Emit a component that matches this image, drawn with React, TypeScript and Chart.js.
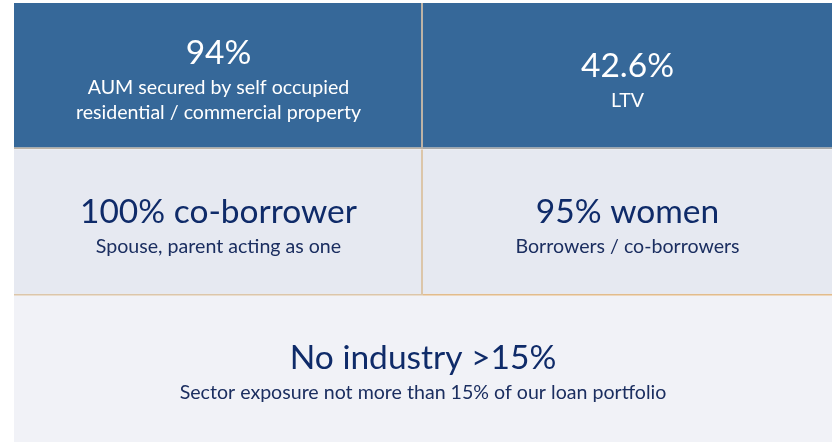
import React, { useEffect, useRef } from "react";
import { Chart, registerables } from "chart.js";

Chart.register(...registerables);

// Rows of the panel (category axis)
const rows = ["Security", "Borrowers", "Concentration"];

// Tiles: headline, sub text lines, row and horizontal span (0..2 grid units)
const headlines = ["94%", "42.6%", "100% co-borrower", "95% women", "No industry >15%"];
const subLines = [
  ["AUM secured by self occupied", "residential / commercial property"],
  ["LTV"],
  ["Spouse, parent acting as one"],
  ["Borrowers / co-borrowers"],
  ["Sector exposure not more than 15% of our loan portfolio"],
];
const tileRow = [0, 0, 1, 1, 2];
const tileStart = [0, 1, 0, 1, 0];
const tileEnd = [1, 2, 1, 2, 2];

const tileFill = ["#366899", "#366899", "#e6e9f1", "#e6e9f1", "#f1f2f7"];
const tileBorder = ["#bdb3a6", "#a9a9a9", "#dcc6aa", "#e2bc8c", "#f1f2f7"];
const headColor = ["#ffffff", "#ffffff", "#0f2b69", "#0f2b69", "#0f2b69"];
const subColor = ["#ffffff", "#ffffff", "#1b2e60", "#1b2e60", "#1b2e60"];

const FONT = "Lato, 'Open Sans', sans-serif";
const HEAD_SIZE = 33.5;
const SUB_SIZE = 19.6;

const tileText = {
  id: "tileText",
  afterDatasetsDraw(chart: any) {
    const ctx = chart.ctx as CanvasRenderingContext2D;
    ctx.save();
    ctx.textAlign = "center";
    ctx.textBaseline = "alphabetic";
    headlines.forEach((head, i) => {
      const meta = chart.getDatasetMeta(i);
      const el: any = meta.data[tileRow[i]];
      if (!el) return;
      const cx = (el.x + el.base) / 2;
      const cy = el.y;
      const subs = subLines[i];
      const span = 35 + 25 * (subs.length - 1);
      const headCenter = cy + 6 - span / 2;
      ctx.fillStyle = headColor[i];
      ctx.font = `${HEAD_SIZE}px ${FONT}`;
      ctx.fillText(head, cx, headCenter + HEAD_SIZE * 0.36);
      ctx.fillStyle = subColor[i];
      ctx.font = `${SUB_SIZE}px ${FONT}`;
      subs.forEach((s, k) => {
        const c = headCenter + 35 + 25 * k;
        ctx.fillText(s, cx, c + SUB_SIZE * 0.36);
      });
    });
    ctx.restore();
  },
};

export default function App() {
  const ref = useRef<HTMLCanvasElement>(null);
  useEffect(() => {
    if (!ref.current) return;
    const chart = new Chart(ref.current, {
      type: "bar",
      data: {
        labels: rows,
        datasets: headlines.map((h, i) => ({
          label: h,
          data: rows.map((_, r) => (r === tileRow[i] ? [tileStart[i], tileEnd[i]] : null)) as any,
          backgroundColor: tileFill[i],
          borderColor: tileBorder[i],
          borderWidth:
            i === 4
              ? 0
              : tileStart[i] === 0 && tileEnd[i] === 1
              ? { right: 2, bottom: 2, top: 0, left: 0 }
              : { right: 0, bottom: 2, top: 0, left: 0 },
          borderSkipped: false,
          inflateAmount: 0,
          grouped: false,
          categoryPercentage: 1,
          barPercentage: 1,
        })),
      },
      options: {
        indexAxis: "y",
        responsive: false,
        animation: false,
        layout: { padding: { left: 14, top: 3, right: 0, bottom: 1 } },
        plugins: { legend: { display: false }, tooltip: { enabled: false } },
        scales: {
          x: { type: "linear", min: 0, max: 2, display: false },
          y: { type: "category", display: false, offset: true },
        },
      } as any,
      plugins: [tileText],
    });
    return () => chart.destroy();
  }, []);
  return (
    <div style={{ position: "absolute", left: 0, top: 0, width: 832, height: 443, background: "#ffffff" }}>
      <canvas ref={ref} width={832} height={443} />
    </div>
  );
}
